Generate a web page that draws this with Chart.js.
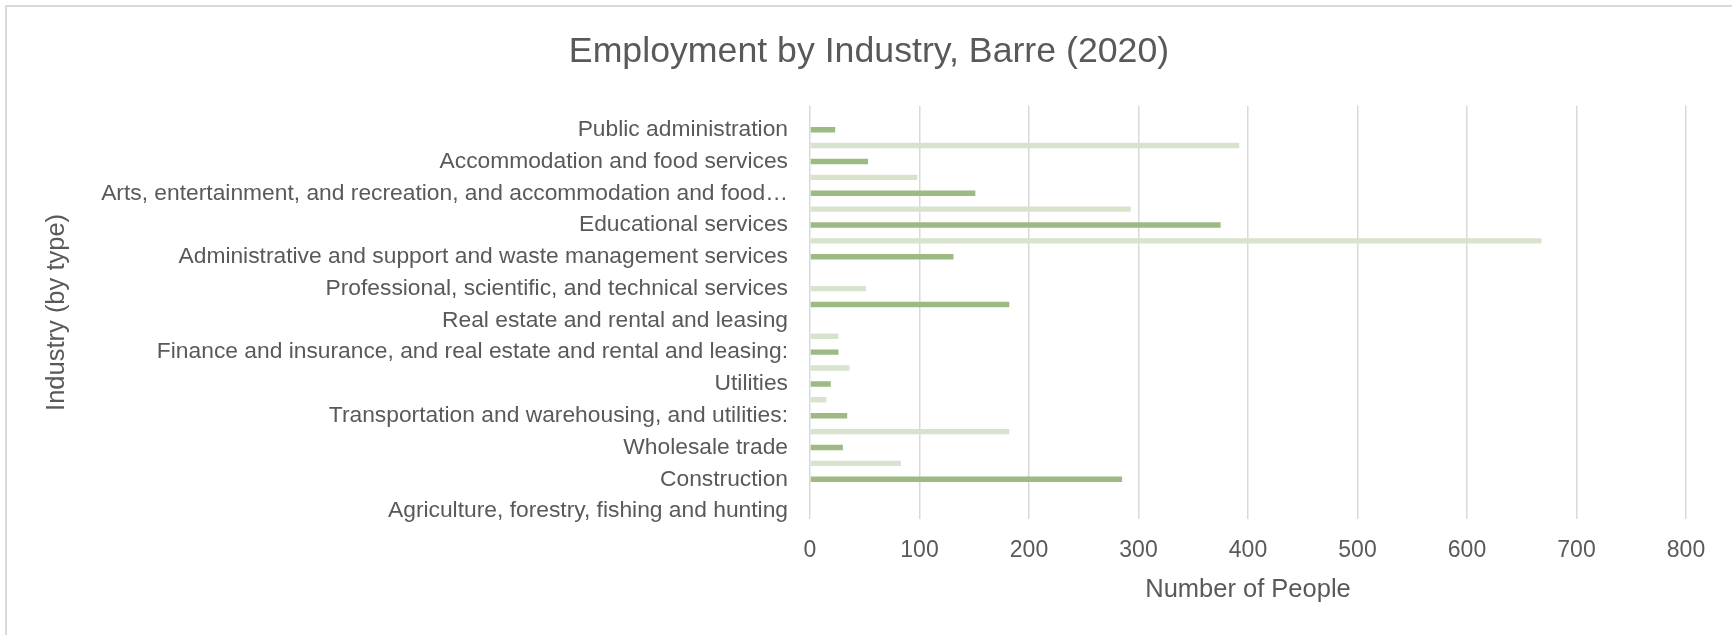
<!DOCTYPE html>
<html>
<head>
	<title>Employment by Industry, Barre (2020)</title>
	<script src="https://cdn.jsdelivr.net/npm/chart.js"></script>
	<style>
		html, body {
			margin: 0;
			padding: 0;
			background: #fff;
			overflow: hidden;
		}

		.frame {
			position: absolute;
			left: 5px;
			top: 5px;
			width: 1800px;
			height: 700px;
			border-left: 2px solid #d9d9d9;
			border-top: 2px solid #d9d9d9;
		}

		.chart {
			position: absolute;
			left: 0;
			top: 0;
			width: 1732px;
			height: 635px;
		}
	</style>
</head>

<body>
	<div class="frame"></div>
	<div class="chart">
		<canvas id="myChart" width="1732" height="635"></canvas>
	</div>

	<script>
		// industries, listed top to bottom as they appear on the axis
		const categories = [
			'',
			'Public administration',
			'Other services, except public administration',
			'Accommodation and food services',
			'Arts, entertainment, and recreation',
			'Arts, entertainment, and recreation, and accommodation and food services:',
			'Health care and social assistance',
			'Educational services',
			'Educational services, and health care and social assistance:',
			'Administrative and support and waste management services',
			'Management of companies and enterprises',
			'Professional, scientific, and technical services',
			'Professional, scientific, and management, and administrative and waste management services:',
			'Real estate and rental and leasing',
			'Finance and insurance',
			'Finance and insurance, and real estate and rental and leasing:',
			'Information',
			'Utilities',
			'Transportation and warehousing',
			'Transportation and warehousing, and utilities:',
			'Retail trade',
			'Wholesale trade',
			'Manufacturing',
			'Construction',
			'Mining, quarrying, and oil and gas extraction',
			'Agriculture, forestry, fishing and hunting'
		];

		// number of people, split over the two shades of green
		const darkCounts = [
			null, 23, null, 53, null, 151, null, 375, null, 131, null, null, 182,
			null, null, 26, null, 19, null, 34, null, 30, null, 285, null, 0
		];

		const lightCounts = [
			null, null, 392, null, 98, null, 293, null, 668, null, 0, 51, null,
			0, 26, null, 36, null, 15, null, 182, null, 83, null, 0, null
		];

		const xTicks = { min: 0, max: 800, step: 100 };

		const textColor = '#595959';
		const fontFamily = "'Liberation Sans', Arial, sans-serif";
		const maxLabelLength = 63;

		function shortLabel( label ) {
			if( label.length > maxLabelLength ) {
				return label.slice( 0, maxLabelLength ) + '\u2026';
			}
			return label;
		}

		Chart.defaults.color = textColor;
		Chart.defaults.font.family = fontFamily;

		const ctx = document.getElementById( 'myChart' );

		new Chart( ctx, {
			type: 'bar',
			data: {
				labels: categories,
				datasets: [{
					label: 'Dark',
					data: darkCounts,
					backgroundColor: '#9cba84',
					grouped: false,
					categoryPercentage: 1,
					barPercentage: 0.34
				}, {
					label: 'Light',
					data: lightCounts,
					backgroundColor: '#d7e3cc',
					grouped: false,
					categoryPercentage: 1,
					barPercentage: 0.34
				}]
			},
			options: {
				indexAxis: 'y',
				responsive: false,
				animation: false,
				layout: {
					padding: { left: 52, right: 46, top: 0, bottom: 30 }
				},
				plugins: {
					legend: { display: false },
					tooltip: { enabled: false },
					title: {
						display: true,
						text: 'Employment by Industry, Barre (2020)',
						color: textColor,
						font: { size: 35.7, weight: 'normal' },
						padding: { top: 31, bottom: 32 }
					}
				},
				scales: {
					x: {
						min: xTicks.min,
						max: xTicks.max,
						grid: {
							color: '#d9d9d9',
							lineWidth: 1.5,
							drawTicks: false
						},
						border: { display: false },
						ticks: {
							stepSize: xTicks.step,
							padding: 18,
							font: { size: 23 }
						},
						title: {
							display: true,
							text: 'Number of People',
							font: { size: 25.5 },
							padding: 0
						},
						afterFit: function( scale ) {
							scale.height = 86;
						}
					},
					y: {
						grid: { display: false },
						border: { display: false },
						ticks: {
							autoSkip: false,
							padding: 14,
							font: { size: 22.8 },
							callback: function( value, index ) {
								if( index % 2 === 0 ) {
									return '';
								}
								return shortLabel( categories[ index ] );
							}
						},
						title: {
							display: true,
							text: 'Industry (by type)',
							font: { size: 25.5 },
							padding: { top: -10, bottom: 0 }
						},
						afterFit: function( scale ) {
							scale.width = 758;
						}
					}
				}
			}
		});
	</script>
</body>
</html>
